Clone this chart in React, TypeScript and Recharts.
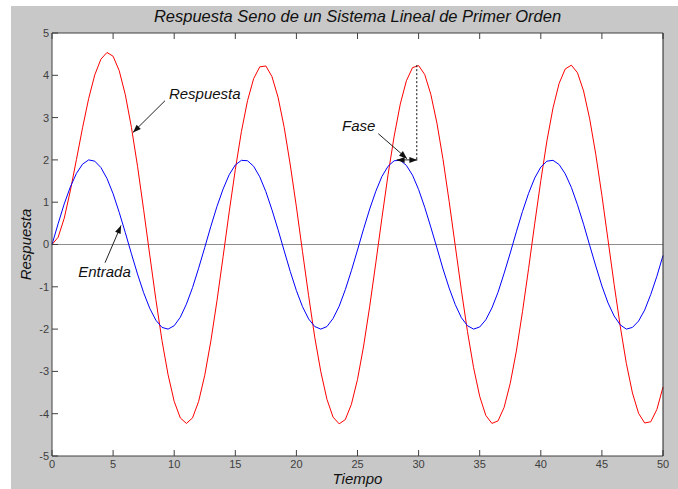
import React from "react";
import {
  LineChart,
  Line,
  XAxis,
  YAxis,
  CartesianGrid,
  ReferenceLine,
  ReferenceDot,
} from "recharts";

// time samples (s)
const TIEMPO = [
  0, 0.5, 1, 1.5, 2, 2.5, 3, 3.5, 4, 4.5,
  5, 5.5, 6, 6.5, 7, 7.5, 8, 8.5, 9, 9.5,
  10, 10.5, 11, 11.5, 12, 12.5, 13, 13.5, 14, 14.5,
  15, 15.5, 16, 16.5, 17, 17.5, 18, 18.5, 19, 19.5,
  20, 20.5, 21, 21.5, 22, 22.5, 23, 23.5, 24, 24.5,
  25, 25.5, 26, 26.5, 27, 27.5, 28, 28.5, 29, 29.5,
  30, 30.5, 31, 31.5, 32, 32.5, 33, 33.5, 34, 34.5,
  35, 35.5, 36, 36.5, 37, 37.5, 38, 38.5, 39, 39.5,
  40, 40.5, 41, 41.5, 42, 42.5, 43, 43.5, 44, 44.5,
  45, 45.5, 46, 46.5, 47, 47.5, 48, 48.5, 49, 49.5,
  50,
];

// input signal (blue)
const ENTRADA = [
  0, 0.49, 0.96, 1.36, 1.68, 1.9, 2.0, 1.97, 1.82, 1.56,
  1.2, 0.76, 0.28, -0.22, -0.7, -1.14, -1.51, -1.79, -1.96, -2.0,
  -1.92, -1.72, -1.41, -1.02, -0.56, -0.07, 0.43, 0.9, 1.31, 1.65,
  1.88, 1.99, 1.98, 1.85, 1.6, 1.25, 0.82, 0.35, -0.15, -0.64,
  -1.09, -1.47, -1.76, -1.94, -2.0, -1.94, -1.75, -1.46, -1.07, -0.62,
  -0.13, 0.37, 0.84, 1.26, 1.61, 1.85, 1.98, 1.99, 1.87, 1.64,
  1.3, 0.88, 0.41, -0.08, -0.58, -1.03, -1.42, -1.73, -1.92, -2.0,
  -1.95, -1.78, -1.5, -1.13, -0.68, -0.2, 0.3, 0.78, 1.21, 1.57,
  1.83, 1.97, 1.99, 1.89, 1.67, 1.35, 0.94, 0.48, -0.02, -0.51,
  -0.98, -1.38, -1.69, -1.9, -2.0, -1.96, -1.81, -1.55, -1.18, -0.75,
  -0.26,
];

// system response (red)
const RESPUESTA = [
  0, 0.17, 0.62, 1.27, 2.01, 2.76, 3.45, 4.01, 4.38, 4.54,
  4.45, 4.11, 3.54, 2.77, 1.85, 0.82, -0.25, -1.3, -2.27, -3.08,
  -3.71, -4.1, -4.23, -4.1, -3.71, -3.09, -2.28, -1.33, -0.29, 0.77,
  1.77, 2.67, 3.4, 3.92, 4.2, 4.22, 3.97, 3.48, 2.77, 1.88,
  0.89, -0.17, -1.21, -2.19, -3.01, -3.66, -4.08, -4.24, -4.14, -3.78,
  -3.19, -2.4, -1.46, -0.43, 0.63, 1.65, 2.56, 3.32, 3.87, 4.18,
  4.23, 4.02, 3.55, 2.87, 2.01, 1.02, -0.03, -1.08, -2.06, -2.91,
  -3.59, -4.04, -4.23, -4.17, -3.85, -3.28, -2.52, -1.59, -0.57, 0.49,
  1.51, 2.45, 3.23, 3.81, 4.15, 4.24, 4.06, 3.63, 2.97, 2.13,
  1.16, 0.11, -0.94, -1.93, -2.81, -3.51, -3.99, -4.22, -4.19, -3.9,
  -3.37,
];

const X_TICKS = [0, 5, 10, 15, 20, 25, 30, 35, 40, 45, 50];
const Y_TICKS = [-5, -4, -3, -2, -1, 0, 1, 2, 3, 4, 5];

// annotations, in data units
const NOTES = [
  { text: "Respuesta", x: 12.5, y: 3.58 },
  { text: "Entrada", x: 4.3, y: -0.64 },
  { text: "Fase", x: 25.1, y: 2.82 },
];
const ARROWS = [
  { x1: 9.25, y1: 3.4, x2: 6.63, y2: 2.65, both: false },
  { x1: 4.34, y1: -0.43, x2: 5.65, y2: 0.45, both: false },
  { x1: 26.7, y1: 2.62, x2: 29.05, y2: 2.03, both: false },
  { x1: 28.2, y1: 2.0, x2: 29.9, y2: 2.0, both: true },
];
const FASE_LINE = { x: 29.85, y1: 4.24, y2: 2.0 };

const data = TIEMPO.map((t, i) => ({
  t,
  entrada: ENTRADA[i],
  respuesta: RESPUESTA[i],
}));

const TICK_STYLE = { fontSize: 11, fill: "#404040" };
const AXIS_COLOR = "#404040";

function head(x: number, y: number, fx: number, fy: number) {
  const dx = x - fx;
  const dy = y - fy;
  const len = Math.sqrt(dx * dx + dy * dy) || 1;
  const ux = dx / len;
  const uy = dy / len;
  const L = 8;
  const W = 3;
  const bx = x - ux * L;
  const by = y - uy * L;
  return `${x},${y} ${bx - uy * W},${by + ux * W} ${bx + uy * W},${by - ux * W}`;
}

function makeArrow(both: boolean) {
  return (p: any) => (
    <g>
      <line x1={p.x1} y1={p.y1} x2={p.x2} y2={p.y2} stroke="#222" strokeWidth={1} />
      <polygon points={head(p.x2, p.y2, p.x1, p.y1)} fill="#111" />
      {both && <polygon points={head(p.x1, p.y1, p.x2, p.y2)} fill="#111" />}
    </g>
  );
}

function makeNote(text: string) {
  return (p: any) => (
    <text
      x={p.cx}
      y={p.cy}
      textAnchor="middle"
      dominantBaseline="central"
      fontSize={15}
      fontStyle="italic"
      fill="#111"
    >
      {text}
    </text>
  );
}

export default function App() {
  return (
    <div
      style={{
        position: "absolute",
        left: 0,
        top: 0,
        width: 678,
        height: 489,
        background: "#fff",
        fontFamily: "'Liberation Sans', Arial, sans-serif",
      }}
    >
      <div
        style={{
          position: "absolute",
          left: 11,
          top: 6,
          right: 0,
          bottom: 0,
          background: "#c8c8c8",
        }}
      />
      <div style={{ position: "absolute", left: 0, top: 0 }}>
        <LineChart
          width={678}
          height={489}
          data={data}
          margin={{ top: 0, right: 0, bottom: 0, left: 0 }}
        >
          <CartesianGrid horizontal={false} vertical={false} fill="#fff" />
          <XAxis
            dataKey="t"
            type="number"
            domain={[0, 50]}
            ticks={X_TICKS}
            interval={0}
            height={33}
            tickSize={-6}
            tickMargin={10}
            tick={TICK_STYLE}
            tickLine={{ stroke: AXIS_COLOR }}
            axisLine={{ stroke: AXIS_COLOR }}
            label={{
              value: "Tiempo",
              position: "insideBottom",
              offset: 5,
              fontSize: 15,
              fontStyle: "italic",
              fill: "#111",
            }}
          />
          <XAxis
            xAxisId="top"
            orientation="top"
            dataKey="t"
            type="number"
            domain={[0, 50]}
            ticks={X_TICKS}
            interval={0}
            height={33}
            tickSize={-6}
            tickFormatter={() => ""}
            tickLine={{ stroke: AXIS_COLOR }}
            axisLine={{ stroke: AXIS_COLOR }}
            label={{
              value: "Respuesta Seno de un Sistema Lineal de Primer Orden",
              position: "center",
              fontSize: 16.5,
              fontStyle: "italic",
              fill: "#111",
            }}
          />
          <YAxis
            type="number"
            domain={[-5, 5]}
            ticks={Y_TICKS}
            interval={0}
            width={52}
            tickSize={-6}
            tickMargin={9}
            tick={TICK_STYLE}
            tickLine={{ stroke: AXIS_COLOR }}
            axisLine={{ stroke: AXIS_COLOR }}
            label={{
              value: "Respuesta",
              angle: -90,
              position: "center",
              fontSize: 15,
              fontStyle: "italic",
              fill: "#111",
            }}
          />
          <YAxis
            yAxisId="right"
            orientation="right"
            type="number"
            domain={[-5, 5]}
            ticks={Y_TICKS}
            interval={0}
            width={15}
            tickSize={-6}
            tickFormatter={() => ""}
            tickLine={{ stroke: AXIS_COLOR }}
            axisLine={{ stroke: "#222" }}
          />
          <ReferenceLine y={0} stroke="#8c8c8c" strokeWidth={1} />
          <Line
            dataKey="respuesta"
            type="linear"
            stroke="#ff0000"
            strokeWidth={1}
            dot={false}
            isAnimationActive={false}
          />
          <Line
            dataKey="entrada"
            type="linear"
            stroke="#0000ff"
            strokeWidth={1}
            dot={false}
            isAnimationActive={false}
          />
          <ReferenceLine
            segment={[
              { x: FASE_LINE.x, y: FASE_LINE.y1 },
              { x: FASE_LINE.x, y: FASE_LINE.y2 },
            ]}
            stroke="#111"
            strokeDasharray="2 2"
          />
          {ARROWS.map((a, i) => (
            <ReferenceLine
              key={`arrow-${i}`}
              segment={[
                { x: a.x1, y: a.y1 },
                { x: a.x2, y: a.y2 },
              ]}
              shape={makeArrow(a.both)}
            />
          ))}
          {NOTES.map((n) => (
            <ReferenceDot
              key={n.text}
              x={n.x}
              y={n.y}
              r={0}
              shape={makeNote(n.text)}
            />
          ))}
        </LineChart>
      </div>
    </div>
  );
}
